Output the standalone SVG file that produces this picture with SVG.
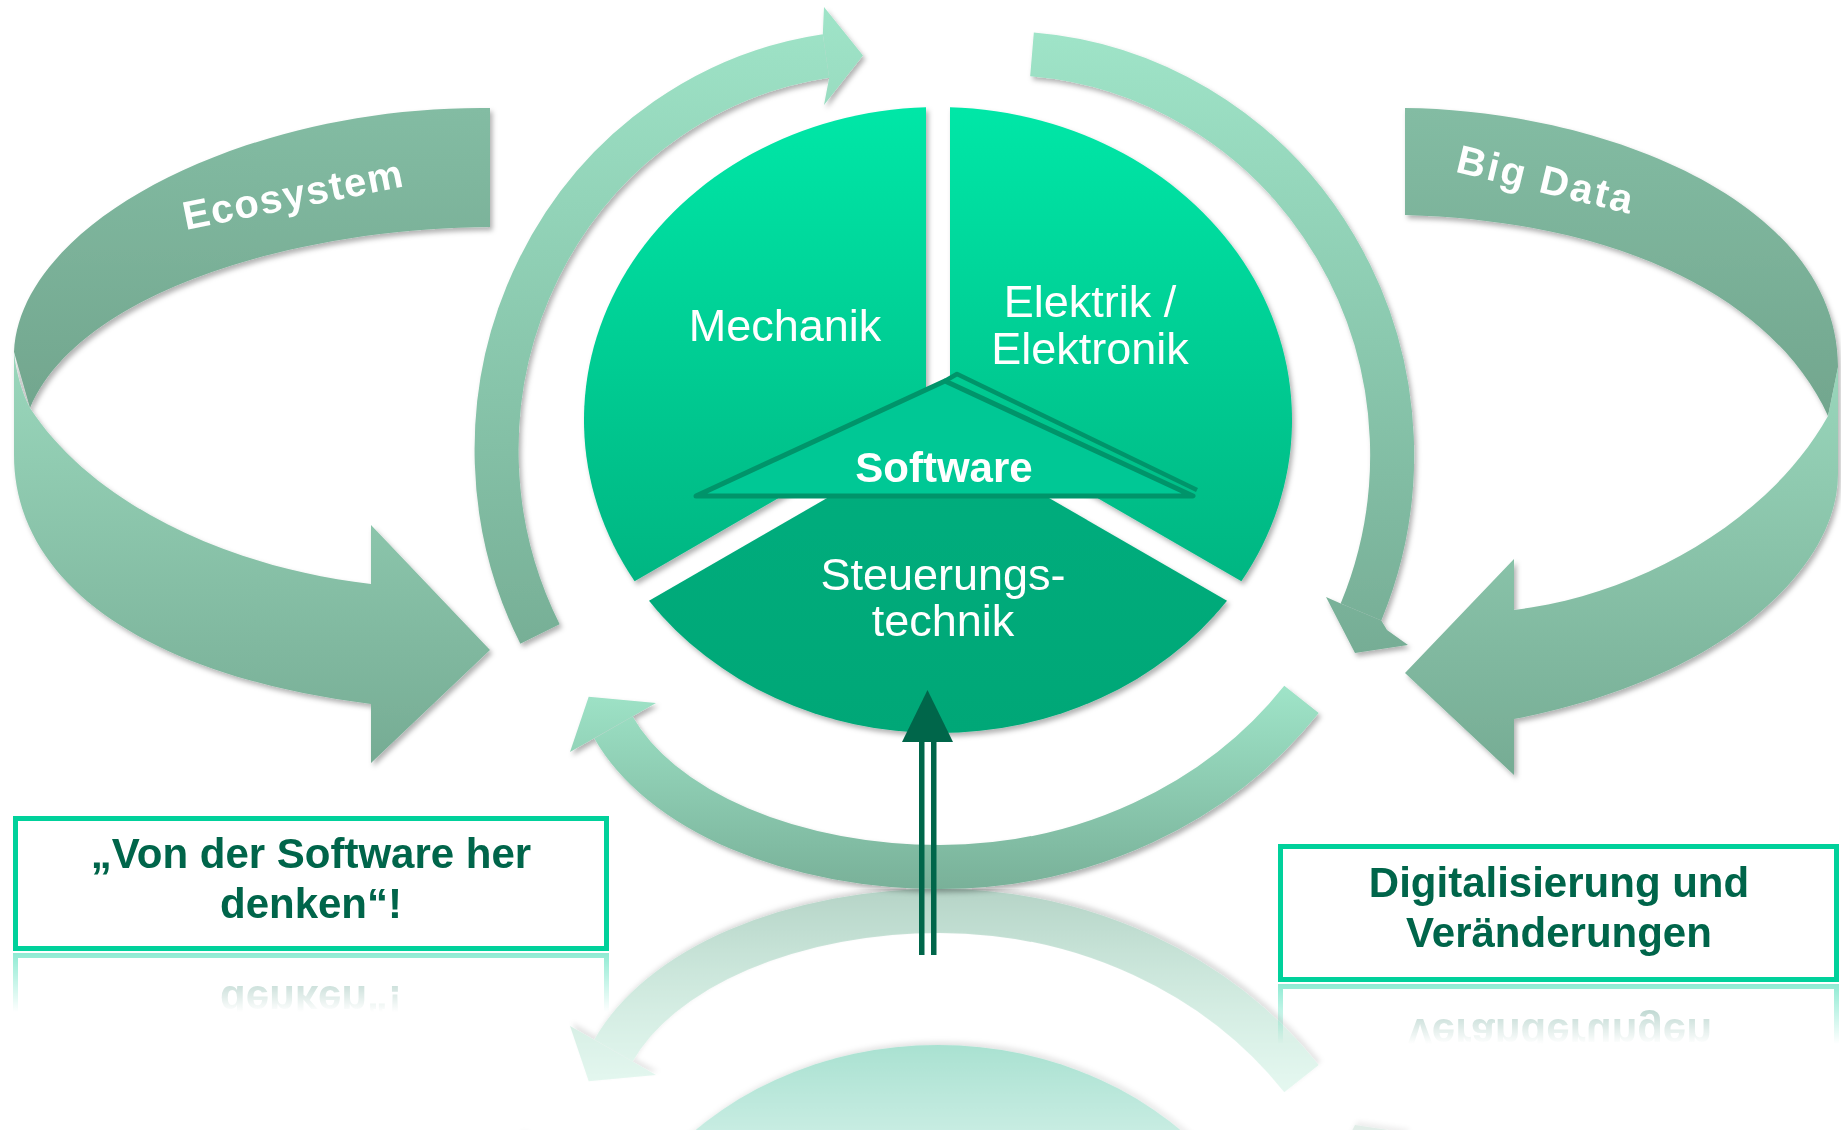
<svg xmlns="http://www.w3.org/2000/svg" width="1841" height="1130" viewBox="0 0 1841 1130">
  <style>
    .lbl { font-family: "Liberation Sans", Arial, sans-serif; fill: #ffffff; text-anchor: middle; }
    .seg { font-size: 45px; }
    .sw { font-size: 42px; font-weight: bold; }
    .band { font-size: 40px; font-weight: bold; }
    .box { fill: #ffffff; stroke: #00d19b; stroke-width: 5; }
    .boxtxt { font-family: "Liberation Sans", Arial, sans-serif; font-weight: bold; font-size: 42px; fill: #00654a; text-anchor: middle; }
    .cyc { fill: none; stroke-width: 44; }
    .dark { fill: #00664a; }
  </style>
  <defs>
    <filter id="shadow" x="-10%" y="-10%" width="130%" height="130%">
      <feDropShadow dx="2.5" dy="3.5" stdDeviation="2.5" flood-color="#000000" flood-opacity="0.3"/>
    </filter>

    <!-- ribbons -->
    <linearGradient id="ecoBack" gradientUnits="userSpaceOnUse" x1="0" y1="108" x2="0" y2="408">
      <stop offset="0" stop-color="#83bca3"/><stop offset="1" stop-color="#72a68e"/>
    </linearGradient>
    <linearGradient id="ecoFront" gradientUnits="userSpaceOnUse" x1="0" y1="352" x2="0" y2="763">
      <stop offset="0" stop-color="#9ad7bc"/><stop offset="1" stop-color="#76ac94"/>
    </linearGradient>
    <linearGradient id="bdBack" gradientUnits="userSpaceOnUse" x1="0" y1="108" x2="0" y2="416">
      <stop offset="0" stop-color="#83bca3"/><stop offset="1" stop-color="#72a68e"/>
    </linearGradient>
    <linearGradient id="bdFront" gradientUnits="userSpaceOnUse" x1="0" y1="367" x2="0" y2="775">
      <stop offset="0" stop-color="#99d6bb"/><stop offset="1" stop-color="#76ac94"/>
    </linearGradient>

    <!-- cycle arrows -->
    <linearGradient id="cycL" gradientUnits="userSpaceOnUse" x1="0" y1="7" x2="0" y2="645">
      <stop offset="0" stop-color="#9fe4c8"/><stop offset="1" stop-color="#77af96"/>
    </linearGradient>
    <linearGradient id="cycR" gradientUnits="userSpaceOnUse" x1="0" y1="32" x2="0" y2="653">
      <stop offset="0" stop-color="#9fe4c8"/><stop offset="1" stop-color="#76ad95"/>
    </linearGradient>
    <linearGradient id="cycB" gradientUnits="userSpaceOnUse" x1="0" y1="687" x2="0" y2="892">
      <stop offset="0" stop-color="#9fe4c8"/><stop offset="1" stop-color="#78b098"/>
    </linearGradient>

    <!-- pie -->
    <linearGradient id="pieTop" gradientUnits="userSpaceOnUse" x1="0" y1="107" x2="0" y2="734">
      <stop offset="0" stop-color="#00e7a7"/><stop offset="1" stop-color="#00a676"/>
    </linearGradient>
    <linearGradient id="pieBottom" gradientUnits="userSpaceOnUse" x1="0" y1="434" x2="0" y2="734">
      <stop offset="0" stop-color="#00ae7d"/><stop offset="1" stop-color="#00a777"/>
    </linearGradient>

    <!-- mirror fades -->
    <linearGradient id="fadeCoreG" gradientUnits="userSpaceOnUse" x1="0" y1="889" x2="0" y2="1130">
      <stop offset="0" stop-color="#ffffff" stop-opacity="0.55"/><stop offset="1" stop-color="#ffffff" stop-opacity="0.22"/>
    </linearGradient>
    <mask id="fadeCore" maskUnits="userSpaceOnUse" x="0" y="889" width="1841" height="241">
      <rect x="0" y="889" width="1841" height="241" fill="url(#fadeCoreG)"/>
    </mask>
    <linearGradient id="fadeBoxLG" gradientUnits="userSpaceOnUse" x1="0" y1="952" x2="0" y2="1012">
      <stop offset="0" stop-color="#ffffff" stop-opacity="0.45"/><stop offset="1" stop-color="#ffffff" stop-opacity="0"/>
    </linearGradient>
    <mask id="fadeBoxL" maskUnits="userSpaceOnUse" x="0" y="952" width="640" height="70">
      <rect x="0" y="952" width="640" height="70" fill="url(#fadeBoxLG)"/>
    </mask>
    <linearGradient id="fadeBoxRG" gradientUnits="userSpaceOnUse" x1="0" y1="983" x2="0" y2="1044">
      <stop offset="0" stop-color="#ffffff" stop-opacity="0.45"/><stop offset="1" stop-color="#ffffff" stop-opacity="0"/>
    </linearGradient>
    <mask id="fadeBoxR" maskUnits="userSpaceOnUse" x="1260" y="983" width="581" height="70">
      <rect x="1260" y="983" width="581" height="70" fill="url(#fadeBoxRG)"/>
    </mask>
  </defs>

  <rect width="1841" height="1130" fill="#ffffff"/>

  <!-- mirrored floor reflections -->
  <g id="reflections">
    <g mask="url(#fadeCore)">
      <g transform="matrix(1 0 0 -1 0 1778)">
        <use href="#cycle"/>
        <use href="#pie"/>
      </g>
    </g>
    <g mask="url(#fadeBoxL)">
      <use href="#box-left" transform="matrix(1 0 0 -1 0 1904)"/>
    </g>
    <g mask="url(#fadeBoxR)">
      <use href="#box-right" transform="matrix(1 0 0 -1 0 1966)"/>
    </g>
  </g>

  <!-- Ecosystem ribbon -->
  <g id="ecosystem" filter="url(#shadow)">
    <path d="M490,108 L490,227 C300,228 80,290 30,408 L14,352 C20,220 250,105 490,108 Z" fill="url(#ecoBack)"/>
    <path d="M14,352 C16,372 22,393 30,408 C90,500 220,566 371,584 L371,525 L490,650 L371,763 L371,704 C140,675 14,580 14,455 Z" fill="url(#ecoFront)"/>
    <text class="lbl band" letter-spacing="1.5" transform="translate(296 208) rotate(-11.3)">Ecosystem</text>
  </g>

  <!-- Big Data ribbon -->
  <g id="big-data" filter="url(#shadow)">
    <path d="M1405,108 C1600,110 1838,200 1838,367 L1828,416 C1780,310 1640,222 1405,215 Z" fill="url(#bdBack)"/>
    <path d="M1838,367 L1838,474 C1838,570 1720,680 1514,719 L1514,775 L1405,673 L1514,559 L1514,610 C1640,595 1770,520 1828,416 Z" fill="url(#bdFront)"/>
    <text class="lbl band" font-size="37" letter-spacing="2.5" transform="translate(1543 193) rotate(13.5)">Big Data</text>
  </g>

  <g id="connectors">
    <!-- clockwise cycle around the pie -->
    <g id="cycle">
      <g id="cycle-left" filter="url(#shadow)">
        <path class="cyc" stroke="url(#cycL)" d="M540,634 A383.5 398 0 0 1 826,56"/>
        <polygon points="822.8,34.2 824,7 863,55.5 824,105 829.2,77.8" fill="url(#cycL)"/>
      </g>
      <g id="cycle-right" filter="url(#shadow)">
        <path class="cyc" stroke="url(#cycR)" d="M1032,54.3 A392 402 0 0 1 1361,612"/>
        <polygon points="1340.7,603.6 1326,597 1355,653 1408,645 1387,630 1381.3,620.4" fill="url(#cycR)"/>
      </g>
      <g id="cycle-bottom" filter="url(#shadow)">
        <path class="cyc" stroke="url(#cycB)" d="M1301.5,699.4 A445 402 0 0 1 940,867 A344.8 205.6 0 0 1 613.5,727.5"/>
        <polygon points="656,703 588.7,696.7 570,752" fill="url(#cycB)"/>
      </g>
    </g>
  </g>

  <!-- three-part pie -->
  <g id="pie" filter="url(#shadow)">
    <g id="mechanik">
      <path d="M926,413 L926,107.2 A354 313 0 0 0 634.6,581.3 Z" fill="url(#pieTop)"/>
      <text class="lbl seg" x="785" y="341">Mechanik</text>
    </g>
    <g id="elektrik">
      <path d="M950,413 L950,107.2 A354 313 0 0 1 1241.4,581.3 Z" fill="url(#pieTop)"/>
      <text class="lbl seg" x="1090" y="317">Elektrik /</text>
      <text class="lbl seg" x="1090" y="364">Elektronik</text>
    </g>
    <g id="steuerung">
      <path d="M938,434 L649,600.8 A354 313 0 0 0 1227,600.8 Z" fill="url(#pieBottom)"/>
      <text class="lbl seg" x="943" y="590">Steuerungs-</text>
      <text class="lbl seg" x="943" y="636">technik</text>
    </g>
  </g>

  <g id="software">
    <polygon points="696,496 945,381 1193,496" fill="#00c895" stroke="#00946a" stroke-width="5" stroke-linejoin="round"/>
    <polyline points="945,381 957,374 1197,490" fill="none" stroke="#00946a" stroke-width="4.5" stroke-linejoin="round"/>
    <text class="lbl sw" x="944" y="482">Software</text>
  </g>

  <!-- input arrow into the pie -->
  <g id="input-arrow">
    <rect class="dark" x="919" y="740" width="5.5" height="215"/>
    <rect class="dark" x="931" y="740" width="5.5" height="215"/>
    <polygon class="dark" points="902,742 927.5,690 953,742"/>
  </g>

  <g id="box-left">
    <rect class="box" x="15.5" y="818.5" width="591" height="130"/>
    <text class="boxtxt" x="311" y="868">„Von der Software her</text>
    <text class="boxtxt" x="311" y="918">denken“!</text>
  </g>

  <g id="box-right">
    <rect class="box" x="1280.5" y="846.5" width="556" height="133"/>
    <text class="boxtxt" x="1559" y="897">Digitalisierung und</text>
    <text class="boxtxt" x="1559" y="947">Veränderungen</text>
  </g>
</svg>
